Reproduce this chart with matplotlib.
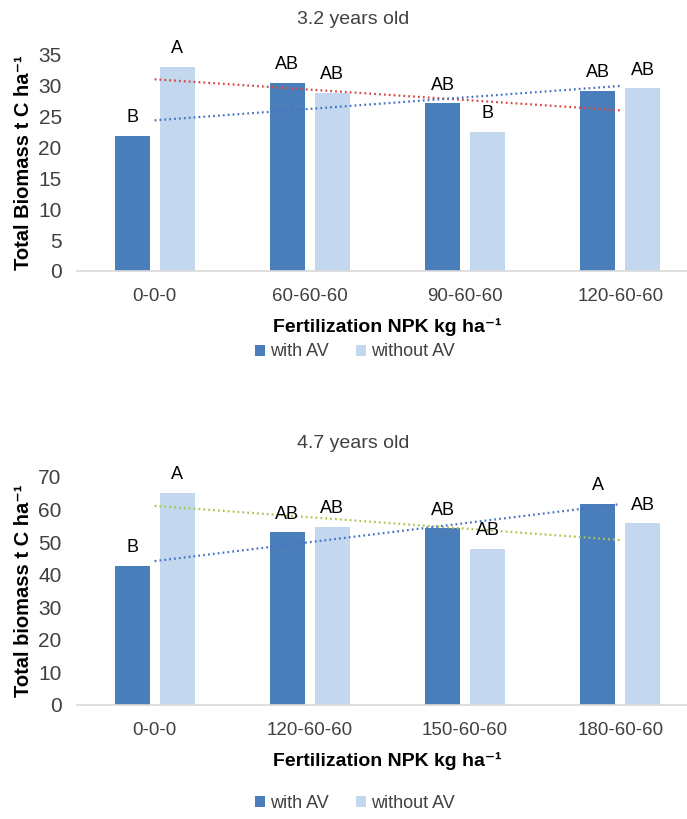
import numpy as np
import matplotlib
matplotlib.use("Agg")
import matplotlib.pyplot as plt

plt.rcParams["font.family"] = ["Liberation Sans", "DejaVu Sans"]

# --- data ---
top_title = "3.2 years old"
top_cats = ["0-0-0", "60-60-60", "90-60-60", "120-60-60"]
top_with = [21.9, 30.5, 27.2, 29.2]
top_without = [33.1, 28.9, 22.6, 29.6]
top_with_letters = ["B", "AB", "AB", "AB"]
top_without_letters = ["A", "AB", "B", "AB"]
top_ylabel = "Total Biomass t C ha\u207b\u00b9"

bot_title = "4.7 years old"
bot_cats = ["0-0-0", "120-60-60", "150-60-60", "180-60-60"]
bot_with = [42.7, 53.0, 54.3, 61.7]
bot_without = [65.2, 54.7, 47.9, 55.8]
bot_with_letters = ["B", "AB", "AB", "A"]
bot_without_letters = ["A", "AB", "AB", "AB"]
bot_ylabel = "Total biomass t C ha\u207b\u00b9"

xlabel = "Fertilization NPK kg ha\u207b\u00b9"
series_names = ["with AV", "without AV"]

W, H = 687, 819
C_WITH = "#4a7ebb"
C_WITHOUT = "#c3d7ee"
TXT = "#404040"


def draw_panel(fig, rect, cats, with_v, without_v, with_l, without_l,
               ymax, ystep, title, ylabel, trend_without_color, title_y, legend_y):
    ax = fig.add_axes(rect)
    x = np.arange(len(cats))
    bw = 0.225
    off = 0.145
    b1 = ax.bar(x - off, with_v, bw, color=C_WITH, label=series_names[0], zorder=2)
    b2 = ax.bar(x + off, without_v, bw, color=C_WITHOUT, label=series_names[1], zorder=2)

    for xi, v, lab in zip(x - off, with_v, with_l):
        ax.annotate(lab, (xi, v), xytext=(0, 13), textcoords="offset points",
                    ha="center", va="center", fontsize=13, color="black", zorder=4)
    for xi, v, lab in zip(x + off, without_v, without_l):
        ax.annotate(lab, (xi, v), xytext=(0, 13), textcoords="offset points",
                    ha="center", va="center", fontsize=13, color="black", zorder=4)

    # linear trendlines (Excel-style), from first to last category centre
    xx = np.array([x[0], x[-1]])
    k, b = np.polyfit(x, without_v, 1)
    ax.plot(xx, k * xx + b, color=trend_without_color, lw=1.6,
            linestyle=(0, (0.8, 1.4)), zorder=3)
    k, b = np.polyfit(x, with_v, 1)
    ax.plot(xx, k * xx + b, color="#4472c4", lw=1.6,
            linestyle=(0, (0.8, 1.4)), zorder=3)

    ax.set_xlim(-0.5, len(cats) - 0.5)
    ax.set_ylim(0, ymax)
    ax.set_yticks(np.arange(0, ymax + 1, ystep))
    ax.set_xticks(x)
    ax.set_xticklabels(cats)
    ax.tick_params(axis="x", length=0, pad=12, labelsize=13.5, labelcolor=TXT)
    ax.tick_params(axis="y", length=0, pad=11, labelsize=15, labelcolor=TXT)
    for s in ["top", "right", "left"]:
        ax.spines[s].set_visible(False)
    ax.spines["bottom"].set_color("#d9d9d9")
    ax.spines["bottom"].set_linewidth(1.2)

    ax.annotate(xlabel, (0.5, 0), xycoords="axes fraction", xytext=(0, -40.5),
                textcoords="offset points", ha="center", va="center",
                fontsize=14, fontweight="bold", color="black")

    fig.text(24 / W, rect[1] + rect[3] / 2, ylabel, rotation=90, ha="center",
             va="center", fontsize=14.5, fontweight="bold", color="black")
    fig.text(353 / W, 1 - title_y / H, title, ha="center", va="center",
             fontsize=14, color=TXT)
    fig.legend(handles=[b1, b2], loc="center", bbox_to_anchor=(355 / W, 1 - legend_y / H),
               ncol=2, frameon=False, fontsize=13, handlelength=0.55, handleheight=0.55,
               handletextpad=0.3, columnspacing=1.5, labelcolor=TXT)
    return ax


fig = plt.figure(figsize=(W / 100, H / 100), dpi=100)

left = 77 / W
width = 621 / W
draw_panel(fig, [left, (H - 271) / H, width, 216 / H], top_cats, top_with, top_without,
           top_with_letters, top_without_letters, 35, 5, top_title, top_ylabel,
           "#d9453d", 19, 352)
draw_panel(fig, [left, (H - 705) / H, width, 228 / H], bot_cats, bot_with, bot_without,
           bot_with_letters, bot_without_letters, 70, 10, bot_title, bot_ylabel,
           "#a8c64e", 443, 803)

fig.savefig("out.png", dpi=100)
plt.close(fig)
